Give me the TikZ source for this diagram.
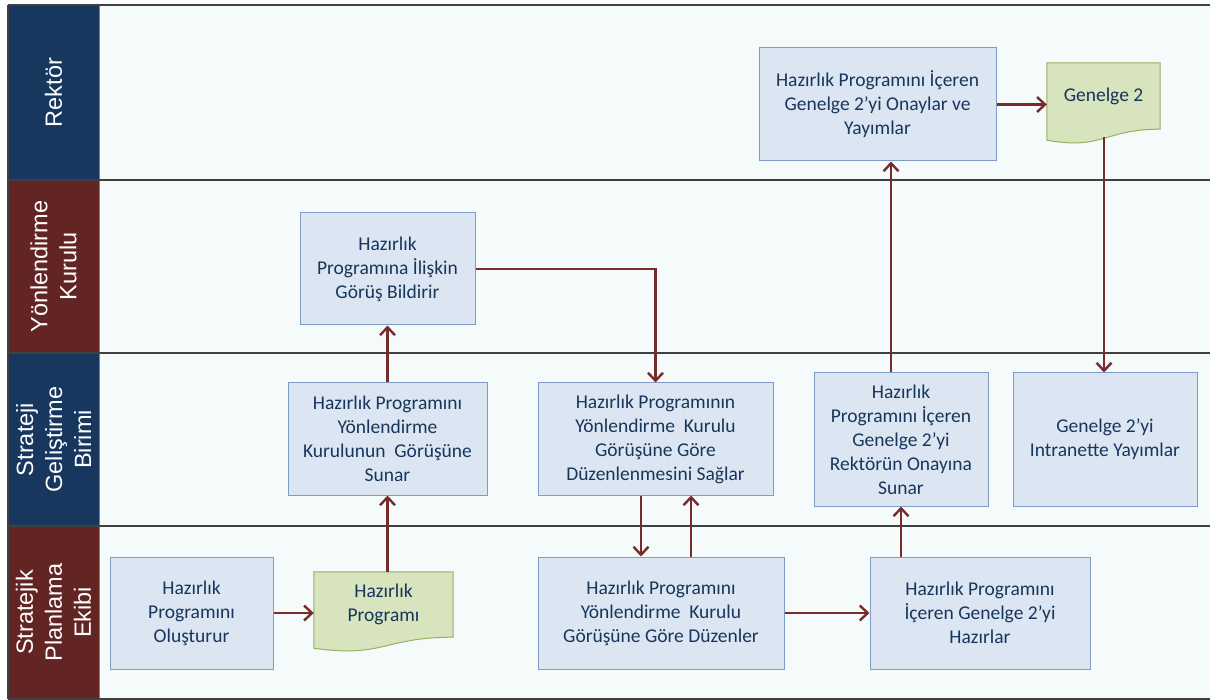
\documentclass[tikz,border=0pt]{standalone}
\usepackage{fontspec}
\setmainfont{Carlito}
\newfontfamily\hdrfont{Liberation Sans}
\usetikzlibrary{arrows.meta,calc}
\pgfdeclarelayer{background}
\pgfsetlayers{background,main}
\definecolor{navyhdr}{HTML}{17375E}
\definecolor{maroonhdr}{HTML}{632523}
\definecolor{lanebg}{HTML}{F5FAFB}
\definecolor{boxfill}{HTML}{DCE6F2}
\definecolor{boxline}{HTML}{7F9DC4}
\definecolor{docfill}{HTML}{D7E4BD}
\definecolor{docline}{HTML}{98B062}
\definecolor{arrowc}{HTML}{772C2A}
\definecolor{txt}{HTML}{17365D}
\definecolor{laneline}{HTML}{404040}
\tikzset{
  pbox/.style={draw=boxline, fill=boxfill, line width=1pt, text=txt, align=center,
    inner sep=0pt, font=\fontsize{19.5}{24}\selectfont},
  doctext/.style={text=txt, align=center, inner sep=0pt, font=\fontsize{19.5}{24}\selectfont},
  docshape/.style={draw=docline, fill=docfill, line width=1pt},
  hdr/.style={rotate=90, text=white, align=center, inner sep=0pt,
    font=\hdrfont\fontsize{23.5}{29}\selectfont},
  flow/.style={draw=arrowc, line width=2.4pt, -{Straight Barb[length=8pt,width=15pt]}},
  lane/.style={draw=laneline, line width=1.2pt}
}
\begin{document}
\begin{tikzpicture}[x=1pt,y=-1pt]
\useasboundingbox (0,0) rectangle (1210,700);
\begin{pgfonlayer}{background}
\fill[white] (0,0) rectangle (1210,700);
\fill[lanebg] (99,5) rectangle (1210,699);
\fill[navyhdr] (8,5) rectangle (99,180);
\fill[maroonhdr] (8,180) rectangle (99,353);
\fill[navyhdr] (8,353) rectangle (99,526);
\fill[maroonhdr] (8,526) rectangle (99,699);
\draw[gray, line width=0.8pt] (99,5) -- (99,699);
\foreach \yy in {5,180,353,526,699} {\draw[lane] (8,\yy) -- (1210,\yy);}
\draw[lane] (8,5) -- (8,699);
\end{pgfonlayer}
\node[hdr] (h1) at (53.5,92.5) {Rektör};
\node[hdr] (h2) at (53.5,266.5) {Yönlendirme\\Kurulu};
\node[hdr] (h3) at (53.5,439.5) {Strateji\\Geliştirme\\Birimi};
\node[hdr] (h4) at (53.5,612.5) {Stratejik\\Planlama\\Ekibi};
% boxes
\node[pbox, minimum width=237pt, minimum height=113pt] (r1) at (877.5,104.5)
  {Hazırlık Programını İçeren\\Genelge 2’yi Onaylar ve\\Yayımlar};
\node[pbox, minimum width=175pt, minimum height=112pt] (yk1) at (387.5,269)
  {Hazırlık\\Programına İlişkin\\Görüş Bildirir};
\node[pbox, minimum width=199pt, minimum height=112pt] (s1) at (387.5,439)
  {Hazırlık Programını\\Yönlendirme\\Kurulunun\ \ Görüşüne\\Sunar};
\node[pbox, minimum width=235pt, minimum height=112pt] (s2) at (655.5,439)
  {Hazırlık Programının\\Yönlendirme\ \ Kurulu\\Görüşüne Göre\\Düzenlenmesini Sağlar};
\node[pbox, minimum width=174pt, minimum height=133pt] (s3) at (901,439.5)
  {Hazırlık\\Programını İçeren\\Genelge 2’yi\\Rektörün Onayına\\Sunar};
\node[pbox, minimum width=184pt, minimum height=133pt] (s4) at (1105,439.5)
  {Genelge 2’yi\\Intranette Yayımlar};
\node[pbox, minimum width=163pt, minimum height=112pt] (p1) at (191.5,613)
  {Hazırlık\\Programını\\Oluşturur};
\node[pbox, minimum width=246pt, minimum height=112pt] (p2) at (661,613)
  {Hazırlık Programını\\Yönlendirme\ \ Kurulu\\Görüşüne Göre Düzenler};
\node[pbox, minimum width=220pt, minimum height=112pt] (p3) at (980,613)
  {Hazırlık Programını\\İçeren Genelge 2’yi\\Hazırlar};
% documents
\node[doctext, minimum width=139pt, minimum height=65pt] (hp) at (383.5,604.5)
  {Hazırlık\\Programı};
\node[doctext, minimum width=113pt, minimum height=66pt] (g2) at (1103.5,96)
  {Genelge 2};
\begin{pgfonlayer}{background}
\draw[docshape] (hp.north west) -- (hp.north east) -- (hp.south east)
  .. controls (hp.south) and ($(hp.south)+(0,21)$) .. ($(hp.south west)+(0,11)$) -- cycle;
\draw[docshape] (g2.north west) -- (g2.north east) -- (g2.south east)
  .. controls (g2.south) and ($(g2.south)+(0,21)$) .. ($(g2.south west)+(0,11)$) -- cycle;
\end{pgfonlayer}
% connector helpers
\coordinate (xa) at (641,0);
\coordinate (xb) at (691,0);
\coordinate (xc) at (891,0);
\coordinate (gw) at (1104,137);
% connectors
\draw[flow] (p1.east) -- (p1.east -| hp.west);
\draw[flow] (hp.north -| s1.south) -- (s1.south);
\draw[flow] (s1.north) -- (yk1.south);
\draw[flow] (yk1.east) -| (s2.north);
\draw[flow] (s2.south -| xa) -- (p2.north -| xa);
\draw[flow] (p2.north -| xb) -- (s2.south -| xb);
\draw[flow] (p2.east) -- (p3.west);
\draw[flow] (p3.north -| s3.south) -- (s3.south);
\draw[flow] (s3.north -| xc) -- (r1.south -| xc);
\draw[flow] (r1.east) -- (r1.east -| g2.west);
\draw[flow] (gw) -- (gw |- s4.north);
\end{tikzpicture}
\end{document}
